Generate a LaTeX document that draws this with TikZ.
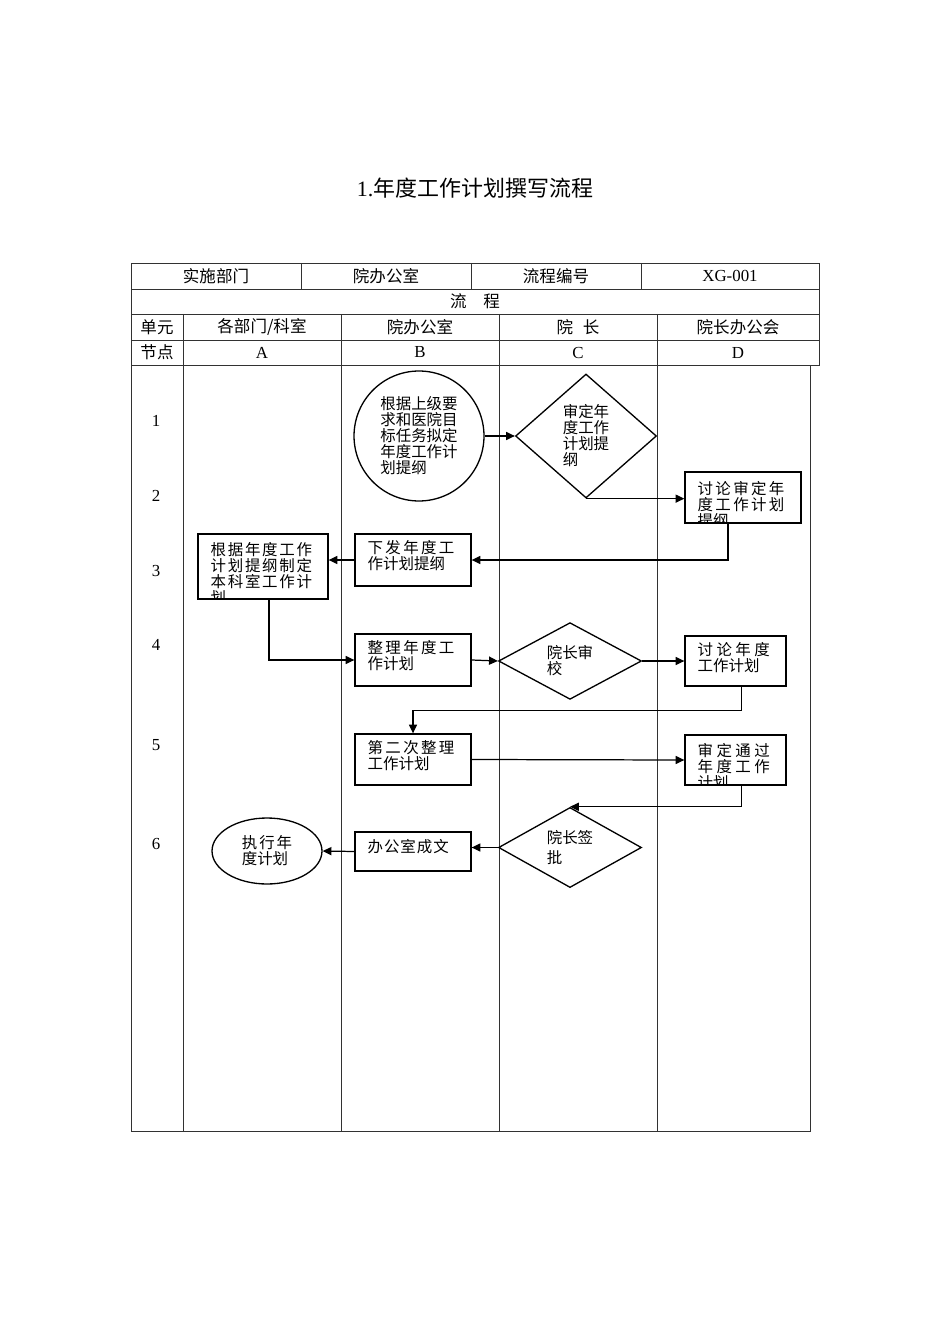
\documentclass[tikz,border=0pt]{standalone}
\usepackage{fontspec}
\setmainfont{Liberation Serif}
\newfontfamily\cjk{Noto Sans CJK SC}
\usetikzlibrary{arrows.meta,calc,positioning,shapes.geometric}
\definecolor{flowInk}{RGB}{0,0,0}
\definecolor{flowRule}{RGB}{50,50,50}
\newcommand{\ls}[2]{{\addfontfeature{LetterSpace=#1}#2}}
\newcommand{\boxlines}[3][7]{%
  \begin{scope}
    \clip (#2.south west) rectangle (#2.north east);
    \node[steptext,anchor=north west] (#2-t) at ($(#2.north west)+(13,#1)$) {#3};
  \end{scope}
}

\begin{document}
\begin{tikzpicture}[x=0.02cm,y=-0.02cm,
  rule/.style={draw=flowRule,line width=0.45pt},
  flow/.style={draw=flowInk,line width=0.7pt,-{Triangle[length=5pt,width=4.6pt]}},
  stepbox/.style 2 args={draw=flowInk,line width=0.75pt,rectangle,inner sep=0pt,
    minimum width=#1,minimum height=#2},
  steptext/.style={inner sep=0pt,align=left,font=\cjk\fontsize{8.8}{9.1}\selectfont},
  decide/.style 2 args={draw=flowInk,line width=0.75pt,diamond,inner sep=0pt,align=left,
    minimum width=#1,minimum height=#2,font=\cjk\fontsize{8.8}{9.1}\selectfont},
  head/.style={inner sep=0pt,font=\cjk\fontsize{9.4}{11}\selectfont},
  headlat/.style={inner sep=0pt,font=\fontsize{9.6}{11}\selectfont}]
  \useasboundingbox (0,0) rectangle (950,1344);

  \node[inner sep=0pt,font=\fontsize{12.5}{14}\selectfont] (title) at (475,188)
    {1.{\cjk 年度工作计划撰写流程}};

  % table
  \draw[rule] (131,263) rectangle (819,365);
  \foreach \y in {289,314,340} {\draw[rule] (131,\y) -- (819,\y);}
  \foreach \x in {301,471,641} {\draw[rule] (\x,263) -- (\x,289);}
  \foreach \x in {183,341,499,657} {\draw[rule] (\x,314) -- (\x,1131);}
  \draw[rule] (131,365) -- (131,1131) -- (810,1131) -- (810,365);

  \node[head] (dept) at (216,276) {实施部门};
  \node[head] (deptval) at (386,276) {院办公室};
  \node[head] (code) at (556,276) {流程编号};
  \node[headlat] (codeval) at (730,276) {XG-001};
  \node[head] (flowhd) at (475,301.5) {流　程};
  \node[head] (unit) at (157,327) {单元};
  \node[head] (lanea) at (262,327) {各部门/科室};
  \node[head] (laneb) at (420,327) {院办公室};
  \node[head] (lanec) at (578,327) {院\hspace{0.6em}长};
  \node[head] (laned) at (738,327) {院长办公会};
  \node[head] (point) at (157,352.5) {节点};
  \foreach \k/\x in {A/262,B/420,C/578,D/738} {\node[headlat] (pt\k) at (\x,352.5) {\k};}
  \foreach \n/\y in {1/421,2/496,3/571,4/645,5/745,6/844} {\node[headlat] (row\n) at (156,\y) {\n};}

  % steps
  \node[draw=flowInk,line width=0.75pt,circle,minimum size=2.6cm,inner sep=0pt,align=left,
    font=\cjk\fontsize{8.8}{9.1}\selectfont] (b1) at (419,436)
    {根据上级要\\求和医院目\\标任务拟定\\年度工作计\\划提纲};
  \node[decide={2.82cm}{2.48cm}] (c1) at (586,436) {审定年\\度工作\\计划提\\纲};
  \node[stepbox={2.32cm}{1.02cm}] (d2) at (743,497.5) {};
  \boxlines[10]{d2}{\ls{15}{讨论审定年}\\\ls{15}{度工作计划}\\提纲}
  \node[stepbox={2.32cm}{1.04cm}] (b3) at (413,560) {};
  \boxlines{b3}{\ls{15}{下发年度工}\\作计划提纲}
  \node[stepbox={2.6cm}{1.3cm}] (a3) at (263,566.5) {};
  \boxlines[9]{a3}{\ls{11}{根据年度工作}\\\ls{11}{计划提纲制定}\\\ls{11}{本科室工作计}\\划}
  \node[stepbox={2.32cm}{1.04cm}] (b4) at (413,660) {};
  \boxlines{b4}{\ls{15}{整理年度工}\\作计划}
  \node[decide={2.86cm}{1.48cm}] (c4) at (570,661) {院长审\\校};
  \node[stepbox={2.02cm}{1.0cm}] (d4) at (735.5,661) {};
  \boxlines{d4}{\ls{22}{讨论年度}\\工作计划}
  \node[stepbox={2.32cm}{1.02cm}] (b5) at (413,759.5) {};
  \boxlines{b5}{\ls{15}{第二次整理}\\工作计划}
  \node[stepbox={2.02cm}{1.0cm}] (d5) at (735.5,760) {};
  \boxlines[9]{d5}{\ls{22}{审定通过}\\\ls{22}{年度工作}\\计划}
  \node[decide={2.86cm}{1.54cm}] (c6) at (570,847.5) {院长签\\[2pt]批};
  \node[stepbox={2.32cm}{0.78cm}] (b6) at (413,851.5) {};
  \boxlines[8]{b6}{\ls{6}{办公室成文}}
  \node[draw=flowInk,line width=0.75pt,ellipse,minimum width=2.2cm,minimum height=1.32cm,
    inner sep=0pt,align=left,font=\cjk\fontsize{8.8}{9.1}\selectfont] (a6) at (267,851)
    {\ls{13}{执行年}\\度计划};

  % connectors
  \draw[flow] (b1.east) -- (c1.west);
  \draw[flow] (c1.south) -- (c1.south -| d2.west);
  \draw[flow] ($(d2.south)+(-15,0)$) |- (b3.east);
  \draw[flow] (b3.west) -- (b3.west -| a3.east);
  \draw[flow] ($(a3.south)+(6,0)$) |- (b4.west);
  \draw[flow] (b4.east) -- (c4.west);
  \draw[flow] (c4.east) -- (d4.west);
  \draw[flow] ($(d4.south)+(6,0)$) -- ++(0,24) -| (b5.north);
  \draw[flow] (b5.east) -- (d5.west);
  \draw[flow] ($(d5.south)+(6,0)$) |- (c6.north);
  \draw[flow] (c6.west) -- (c6.west -| b6.east);
  \draw[flow] (b6.west) -- (a6.east);
\end{tikzpicture}
\end{document}
